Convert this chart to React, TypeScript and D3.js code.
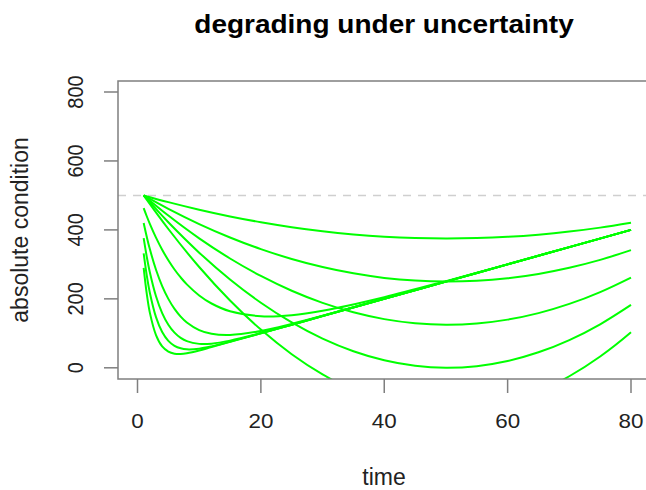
import React from "react";
import * as d3 from "d3";

const xTicks = [0, 20, 40, 60, 80];
const yTicks = [0, 200, 400, 600, 800];
const referenceLevel = 500;

// quadratic-shaped degradation paths
const timeQuad = [1, 5, 10, 15, 20, 25, 30, 35, 40, 45, 50, 55, 60, 65, 70, 75, 80];
const quad1 = [500, 480.5, 458.5, 439.0, 422.2, 407.9, 396.1, 387.0, 380.4, 376.4, 375.0, 376.2, 379.9, 386.2, 395.1, 406.6, 420.6];
const quad2 = [500, 461.1, 417.0, 378.1, 344.3, 315.7, 292.3, 274.0, 260.8, 252.9, 250.0, 252.3, 259.8, 272.4, 290.2, 313.1, 341.2];
const quad3 = [500, 441.6, 375.5, 317.1, 266.5, 223.6, 188.4, 161.0, 141.2, 129.3, 125.0, 128.5, 139.7, 158.6, 185.3, 219.7, 261.8];
const quad4 = [500, 422.1, 334.0, 256.2, 188.7, 131.5, 84.6, 48.0, 21.7, 5.7, 0, 4.7, 19.6, 44.9, 80.4, 126.3, 182.5];
const quad5 = [500, 402.6, 292.4, 195.2, 110.8, 39.3, -19.3, -65.1, -97.9, -117.9, -125, -119.2, -100.5, -68.9, -24.5, 32.8, 103.1];

// fast-dropping paths that recover along a rising line
const timeFast = [1, 1.5, 2, 3, 4, 5, 6, 7, 8, 10, 12, 15, 20, 25, 30, 40, 50, 60, 70, 80];
const fast1 = [290.0, 215.0, 160.0, 95.0, 62.0, 47.0, 41.0, 40.0, 42.0, 50.0, 60.2, 75.1, 100, 125, 150, 200, 250, 300, 350, 400];
const fast2 = [332.1, 268.1, 217.7, 146.9, 103.8, 78.2, 63.8, 56.5, 53.6, 55.5, 62.2, 75.6, 100.1, 125, 150, 200, 250, 300, 350, 400];
const fast3 = [376.0, 322.4, 277.2, 207.5, 158.7, 124.9, 102.0, 86.8, 77.3, 69.4, 70.1, 78.8, 100.7, 125.1, 150, 200, 250, 300, 350, 400];
const fast4 = [419.9, 380.0, 344.3, 284.4, 237.1, 199.9, 170.9, 148.6, 131.5, 109.4, 98.6, 95.2, 106.8, 127.3, 150.8, 200.1, 250, 300, 350, 400];
const fast5 = [463.1, 439.6, 417.6, 377.6, 342.5, 311.9, 285.2, 262.1, 242.0, 209.9, 186.5, 164.0, 149.6, 152.6, 165.4, 204.8, 251.5, 300.5, 350.1, 400];

const W = 646;
const H = 490;
const box = { left: 118, right: 651, top: 81, bottom: 379 };
const FONT = "'Liberation Sans', Arial, Helvetica, sans-serif";
const SX = 1.12;
const AXIS = "#7f7f7f";

export default function App() {
  const x = d3.scaleLinear().domain([0, 80]).range([137.5, 631]);
  const y = d3.scaleLinear().domain([0, 800]).range([367.8, 92]);

  const line = d3
    .line<[number, number]>()
    .x((d) => x(d[0]))
    .y((d) => y(d[1]))
    .curve(d3.curveCatmullRom.alpha(0.5));

  const series: [number, number][][] = [];
  [quad1, quad2, quad3, quad4, quad5].forEach((vals) =>
    series.push(timeQuad.map((t, i) => [t, vals[i]]))
  );
  [fast1, fast2, fast3, fast4, fast5].forEach((vals) =>
    series.push(timeFast.map((t, i) => [t, vals[i]]))
  );

  return (
    <svg
      width={W}
      height={H}
      style={{ position: "absolute", left: 0, top: 0, background: "#fff" }}
      fontFamily={FONT}
    >
      <defs>
        <clipPath id="plotclip">
          <rect x={box.left} y={box.top} width={box.right - box.left} height={box.bottom - box.top} />
        </clipPath>
      </defs>
      <rect x={0} y={0} width={W} height={H} fill="#fff" />

      {/* reference dashed line */}
      <line
        x1={box.left}
        x2={box.right}
        y1={y(referenceLevel)}
        y2={y(referenceLevel)}
        stroke="#cfcfcf"
        strokeWidth={1.5}
        strokeDasharray="8,7"
        clipPath="url(#plotclip)"
      />

      <g clipPath="url(#plotclip)">
        {series.map((s, i) => (
          <path key={i} d={line(s) || ""} fill="none" stroke="#00ff00" strokeWidth={2} />
        ))}
      </g>

      {/* box */}
      <rect
        x={box.left}
        y={box.top}
        width={box.right - box.left}
        height={box.bottom - box.top}
        fill="none"
        stroke={AXIS}
        strokeWidth={1.5}
      />

      {/* x axis */}
      {xTicks.map((t) => (
        <g key={"xt" + t}>
          <line x1={x(t)} x2={x(t)} y1={box.bottom} y2={box.bottom + 14} stroke={AXIS} strokeWidth={1.5} />
          <text
            transform={`translate(${x(t)},428) scale(${SX},1)`}
            textAnchor="middle"
            fontSize={20}
            fill="#222"
          >
            {t}
          </text>
        </g>
      ))}

      {/* y axis */}
      {yTicks.map((v) => (
        <g key={"yt" + v}>
          <line x1={box.left - 14} x2={box.left} y1={y(v)} y2={y(v)} stroke={AXIS} strokeWidth={1.5} />
          <text
            transform={`translate(83,${y(v)}) scale(${SX},1) rotate(-90)`}
            textAnchor="middle"
            fontSize={20}
            fill="#222"
          >
            {v}
          </text>
        </g>
      ))}

      {/* title and axis labels */}
      <text
        transform={`translate(384,33) scale(${SX},1)`}
        textAnchor="middle"
        fontSize={25}
        fontWeight="bold"
        fill="#000"
      >
        degrading under uncertainty
      </text>
      <text x={384} y={485} textAnchor="middle" fontSize={23} fill="#222">
        time
      </text>
      <text
        transform="translate(28,230) rotate(-90)"
        textAnchor="middle"
        fontSize={23}
        fill="#222"
      >
        absolute condition
      </text>
    </svg>
  );
}
